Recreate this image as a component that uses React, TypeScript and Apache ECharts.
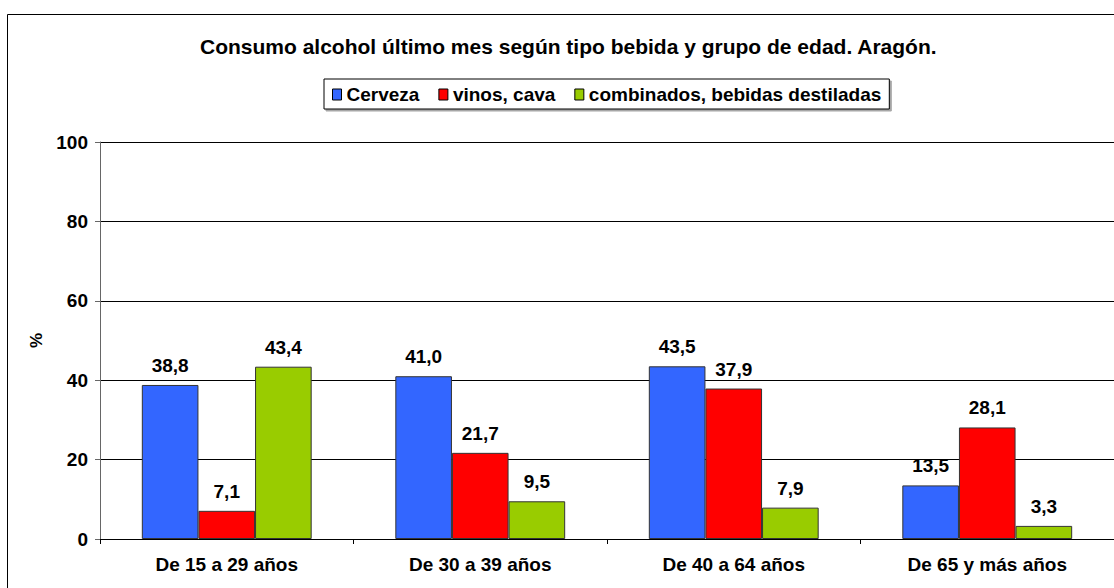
import React, { useEffect, useRef } from "react";
import * as echarts from "echarts";

const categories = ["De 15 a 29 años", "De 30 a 39 años", "De 40 a 64 años", "De 65 y más años"];
const seriesNames = ["Cerveza", "vinos, cava", "combinados, bebidas destiladas"];
const cerveza = [38.8, 41.0, 43.5, 13.5];
const vinos = [7.1, 21.7, 37.9, 28.1];
const combinados = [43.4, 9.5, 7.9, 3.3];
const colors = ["#3366FF", "#FF0000", "#99CC00"];
const titleText = "Consumo alcohol último mes según tipo bebida y grupo de edad. Aragón.";

const FONT = "'Liberation Sans', Arial, sans-serif";

export default function App() {
  const ref = useRef<HTMLDivElement>(null);
  useEffect(() => {
    if (!ref.current) return;
    const chart = echarts.init(ref.current, null, { renderer: "svg" });
    const values = [cerveza, vinos, combinados];
    const fmt = (v: number) => v.toFixed(1).replace(".", ",");
    chart.setOption({
      animation: false,
      backgroundColor: "#ffffff",
      textStyle: { fontFamily: FONT },
      title: {
        text: titleText,
        left: 200,
        top: 36,
        padding: 0,
        textStyle: { fontFamily: FONT, fontWeight: "bold", fontSize: 21, color: "#000" },
      },
      legend: {
        data: seriesNames,
        left: 324,
        top: 79,
        padding: [6, 8, 5, 8],
        itemGap: 19,
        itemWidth: 9,
        itemHeight: 11,
        icon: "rect",
        borderColor: "#000",
        borderWidth: 1,
        backgroundColor: "#fff",
        shadowColor: "rgba(0,0,0,0.35)",
        shadowOffsetX: 2,
        shadowOffsetY: 2,
        shadowBlur: 0,
        itemStyle: { borderColor: "#000", borderWidth: 1 },
        textStyle: { fontFamily: FONT, fontWeight: "bold", fontSize: 19, color: "#000" },
      },
      grid: { left: 100, top: 142, right: 0, bottom: 49, containLabel: false },
      xAxis: {
        type: "category",
        data: categories,
        axisLine: { show: true, lineStyle: { color: "#000", width: 1 } },
        axisTick: { show: true, length: 5, lineStyle: { color: "#000" } },
        axisLabel: { fontFamily: FONT, fontWeight: "bold", fontSize: 19, color: "#000", margin: 16 },
      },
      yAxis: {
        type: "value",
        min: 0,
        max: 100,
        interval: 20,
        name: "%",
        nameLocation: "middle",
        nameGap: 50,
        nameRotate: 90,
        nameTextStyle: { fontFamily: FONT, fontWeight: "bold", fontSize: 17, color: "#000" },
        axisLine: { show: true, lineStyle: { color: "#666", width: 1 } },
        axisTick: { show: true, length: 5, lineStyle: { color: "#666" } },
        axisLabel: { fontFamily: FONT, fontWeight: "bold", fontSize: 19, color: "#000", margin: 12 },
        splitLine: { show: true, lineStyle: { color: "#000", width: 1 } },
      },
      graphic: [
        {
          type: "rect",
          shape: { x: 7.5, y: 14.5, width: 1200, height: 700 },
          style: { fill: "none", stroke: "#000", lineWidth: 1 },
          silent: true,
          z: 100,
        },
      ],
      series: seriesNames.map((name, i) => ({
        name,
        type: "bar",
        data: values[i],
        barGap: "0%",
        barCategoryGap: "33%",
        itemStyle: { color: colors[i], borderColor: "#333", borderWidth: 1 },
        label: {
          show: true,
          position: "top",
          distance: 10,
          formatter: (p: any) => fmt(p.value),
          fontFamily: FONT,
          fontWeight: "bold",
          fontSize: 19,
          color: "#000",
        },
      })),
    });
    return () => chart.dispose();
  }, []);
  return (
    <div style={{ position: "fixed", left: 0, top: 0, width: 1114, height: 588, background: "#fff" }}>
      <div ref={ref} style={{ width: 1114, height: 588 }} />
    </div>
  );
}
